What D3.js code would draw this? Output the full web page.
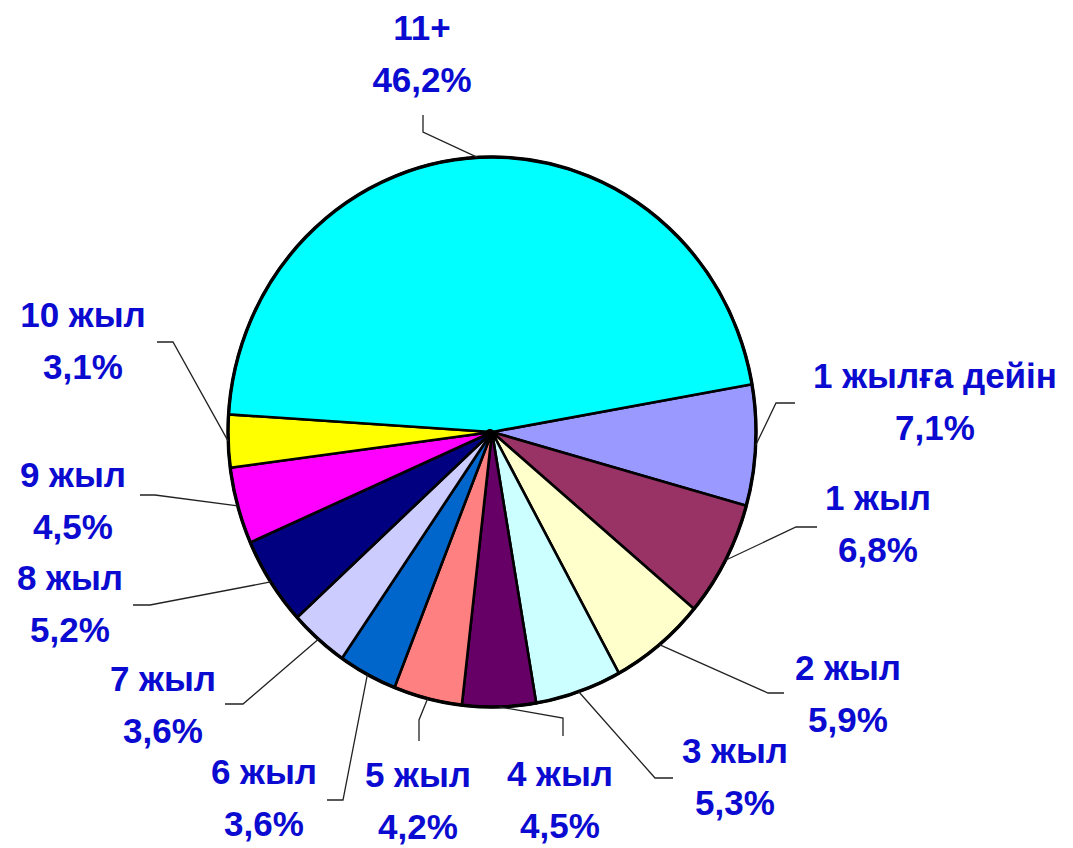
<!DOCTYPE html>
<html><head><meta charset="utf-8">
<script src="https://cdn.jsdelivr.net/npm/d3@7/dist/d3.min.js"></script>
<style>html,body{margin:0;padding:0;background:#fff;}svg{display:block;}</style>
</head><body>
<svg id="chart" width="1073" height="848"></svg>
<script>
// ---- data ----
const categories = ["1 жылға дейін","1 жыл","2 жыл","3 жыл","4 жыл","5 жыл","6 жыл","7 жыл","8 жыл","9 жыл","10 жыл","11+"];
const values = [7.1,6.8,5.9,5.3,4.5,4.2,3.6,3.6,5.2,4.5,3.1,46.2];
const valueLabels = ["7,1%","6,8%","5,9%","5,3%","4,5%","4,2%","3,6%","3,6%","5,2%","4,5%","3,1%","46,2%"];
const colors = ["#9999FF","#993366","#FFFFCC","#CCFFFF","#660066","#FF8080","#0066CC","#CCCCFF","#000080","#FF00FF","#FFFF00","#00FFFF"];

// ---- layout (label placement, leader elbows) ----
const labelLayout = [
  {cx:935, y:388, pts:[[795,403],[776,403]]},
  {cx:878, y:510, pts:[[817,527],[796,527]]},
  {cx:848, y:680, pts:[[784,693],[768,693]]},
  {cx:735, y:763, pts:[[673,778],[655,778]]},
  {cx:560, y:786, pts:[[563,736],[563,718]]},
  {cx:418, y:787, pts:[[419,741],[419,720]]},
  {cx:264, y:784, pts:[[327,800],[343,800]]},
  {cx:163, y:691, pts:[[225,704],[243,704]]},
  {cx:70,  y:590, pts:[[133,605],[150,605]]},
  {cx:73,  y:487, pts:[[140,495],[155,495]]},
  {cx:83,  y:327, pts:[[157,342],[173,342]]},
  {cx:422, y:40,  pts:[[423,115],[423,132]]}
];

const cx = 492, cy = 432, rx = 264, ry = 275;
const startAngle = 80 * Math.PI / 180;
const svg = d3.select("#chart");

const pie = d3.pie().sort(null).value(d => d)
  .startAngle(startAngle).endAngle(startAngle + 2 * Math.PI);
const arcs = pie(values);
const arc = d3.arc().innerRadius(0).outerRadius(rx);

const g = svg.append("g").attr("transform", `translate(${cx},${cy}) scale(1,${ry/rx})`);
g.selectAll("path").data(arcs).enter().append("path")
  .attr("d", arc)
  .attr("fill", (d, i) => colors[i])
  .attr("stroke", "#000")
  .attr("stroke-width", 2.6)
  .attr("stroke-linejoin", "round")
  .attr("vector-effect", "non-scaling-stroke");
g.append("ellipse").attr("rx", rx).attr("ry", rx).attr("fill", "none")
  .attr("stroke", "#000").attr("stroke-width", 3.4).attr("vector-effect", "non-scaling-stroke");
svg.append("circle").attr("cx", cx - 2).attr("cy", cy + 2).attr("r", 5).attr("fill", "#000");

// leaders
const line = d3.line();
arcs.forEach((a, i) => {
  const m = (a.startAngle + a.endAngle) / 2;
  const px = cx + rx * Math.sin(m), py = cy - ry * Math.cos(m);
  const pts = labelLayout[i].pts.concat([[px, py]]);
  svg.append("path").attr("d", line(pts)).attr("fill", "none")
    .attr("stroke", "#222").attr("stroke-width", 1.3);
});

// labels
const lab = svg.append("g")
  .attr("font-family", "'Liberation Sans', Arial, sans-serif")
  .attr("font-weight", "bold").attr("font-size", 35)
  .attr("fill", "#0A0AD0").attr("text-anchor", "middle");
labelLayout.forEach((L, i) => {
  lab.append("text").attr("x", L.cx).attr("y", L.y).text(categories[i]);
  lab.append("text").attr("x", L.cx).attr("y", L.y + 52).text(valueLabels[i]);
});
</script>
</body></html>
